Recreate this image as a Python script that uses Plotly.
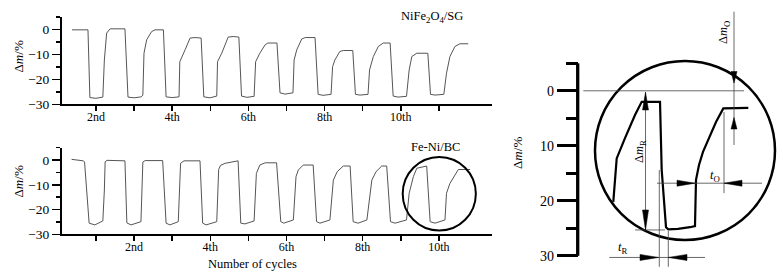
import plotly.graph_objects as go

# ---------------- data ----------------
# Upper panel: NiFe2O4/SG, mass change (%) vs. cycle
top_t = [1.37, 1.79, 1.84, 2.00, 2.18, 2.22, 2.28, 2.37, 2.76, 2.84, 3.00, 3.19,
         3.23, 3.26, 3.33, 3.46, 3.55, 3.77, 3.84, 4.00, 4.18, 4.20, 4.34, 4.47,
         4.60, 4.76, 4.83, 4.99, 5.17, 5.19, 5.30, 5.47, 5.60, 5.75, 5.82, 5.96,
         6.15, 6.19, 6.30, 6.44, 6.51, 6.75, 6.83, 6.96, 7.17, 7.20, 7.27, 7.40,
         7.49, 7.75, 7.83, 7.96, 8.17, 8.21, 8.27, 8.40, 8.49, 8.74, 8.81, 8.93,
         9.14, 9.18, 9.28, 9.41, 9.54, 9.72, 9.80, 9.93, 10.15, 10.22, 10.29, 10.42,
         10.71, 10.78, 10.90, 11.13, 11.20, 11.29, 11.42, 11.55, 11.77]
top_m = [-0.1, -0.1, -27.3, -27.6, -27.1, -12.2, -1.4, 0.3, 0.3, -27.1, -27.4, -27.0,
         -26.3, -9.5, -4.1, -0.8, -0.1, -0.1, -27.0, -27.3, -27.0, -12.9, -8.1, -3.4,
         -3.2, -3.4, -27.0, -27.4, -26.7, -12.9, -9.5, -3.0, -2.8, -3.0, -26.7, -27.2,
         -26.8, -12.9, -9.5, -6.1, -5.4, -5.4, -25.4, -25.9, -25.4, -12.2, -8.1, -3.8,
         -3.2, -3.2, -26.0, -26.4, -26.0, -14.9, -12.2, -8.8, -8.4, -8.4, -26.0, -26.3,
         -26.0, -16.2, -10.8, -6.8, -5.4, -5.4, -26.7, -27.1, -26.8, -16.2, -10.8, -9.5,
         -9.5, -26.0, -26.3, -26.0, -17.5, -10.8, -6.8, -5.7, -5.7]

# Lower panel: Fe-Ni/BC
bot_t = [0.36, 0.67, 0.70, 0.82, 0.97, 1.18, 1.22, 1.24, 1.29, 1.76, 1.81, 1.92,
         2.18, 2.23, 2.29, 2.75, 2.84, 2.94, 3.16, 3.22, 3.31, 3.73, 3.80, 3.89,
         4.17, 4.22, 4.27, 4.39, 4.73, 4.80, 4.91, 5.15, 5.21, 5.30, 5.44, 5.74,
         5.85, 5.93, 6.18, 6.25, 6.31, 6.44, 6.70, 6.79, 6.88, 7.14, 7.23, 7.33,
         7.49, 7.67, 7.75, 7.88, 8.11, 8.24, 8.35, 8.50, 8.63, 8.73, 8.85, 9.15,
         9.22, 9.33, 9.42, 9.55, 9.68, 9.77, 9.90, 10.16, 10.20, 10.29, 10.40, 10.51,
         10.82]
bot_m = [0.3, -0.3, -0.8, -25.5, -26.2, -24.6, -12.1, -0.7, -0.1, -0.3, -25.4, -26.2,
         -24.9, -0.8, -0.2, -0.2, -25.5, -26.2, -24.9, -1.3, -0.3, -0.3, -25.5, -26.2,
         -24.9, -3.8, -2.1, -1.3, -0.3, -25.5, -25.8, -24.6, -5.4, -2.0, -1.1, -1.1,
         -24.9, -25.5, -24.2, -6.7, -4.0, -2.0, -2.0, -24.9, -25.5, -24.2, -8.1, -4.7,
         -2.4, -2.4, -24.9, -25.5, -24.2, -8.1, -4.7, -2.4, -2.4, -24.9, -25.5, -24.2,
         -13.4, -6.7, -3.3, -2.7, -2.4, -24.9, -25.5, -24.2, -13.4, -9.4, -6.7, -3.8,
         -3.8]

# Magnified sketch (right): time in arbitrary units, mass loss in %
zoom_t = [17.8, 19.5, 23.65, 28.65, 32.0, 41.15, 42.0, 44.15, 45.3, 50.15, 56.15, 58.65,
          59.15, 60.65, 62.65, 65.15, 69.15, 72.8, 85.3]
zoom_m = [20.2, 12.3, 8.6, 4.4, 2.0, 2.0, 14.4, 24.8, 25.2, 25.1, 24.8, 24.6,
          16.2, 13.5, 11.1, 8.95, 5.67, 3.2, 3.1]

top_labelled = [2, 4, 6, 8, 10]
top_unlabelled = [3, 5, 7, 9, 11]
bot_labelled = [2, 4, 6, 8, 10]
bot_unlabelled = [1, 3, 5, 7, 9]
cycle_text = ["2nd", "4th", "6th", "8th", "10th"]
left_major = [-30, -20, -10, 0]
left_minor = [-25, -15, -5, 5]
zoom_major = [0, 10, 20, 30]
zoom_minor = [-5, 5, 15, 25]

# ---------------- figure ----------------
W, H = 783, 274          # reference frame used for all fractional positions
PAGE_H = 282             # rendered height (the capture is rescaled to 274)
FONT = "Liberation Serif"
fig = go.Figure()

fig.add_trace(go.Scatter(x=top_t, y=top_m, mode="lines", xaxis="x", yaxis="y",
                         line=dict(color="#555555", width=1), showlegend=False))
fig.add_trace(go.Scatter(x=bot_t, y=bot_m, mode="lines", xaxis="x2", yaxis="y2",
                         line=dict(color="#555555", width=1), showlegend=False))
fig.add_trace(go.Scatter(x=zoom_t, y=zoom_m, mode="lines", xaxis="x3", yaxis="y3",
                         line=dict(color="black", width=2.2), showlegend=False))


def left_x(rng, tv, mv):
    return dict(domain=[62 / W, 492 / W], range=rng, tickmode="array", tickvals=tv,
                ticktext=cycle_text, ticks="outside", ticklen=5, tickwidth=1.5,
                tickcolor="black", ticklabelstandoff=-5,
                minor=dict(tickmode="array", tickvals=mv, ticks="outside", ticklen=5,
                           tickwidth=1.5, tickcolor="black", showgrid=False),
                showline=True, linewidth=2, linecolor="black", showgrid=False,
                zeroline=False, tickfont=dict(family=FONT, size=12, color="black"))


def left_y(dom):
    return dict(domain=dom, range=[-30, 5.05], tickmode="array", tickvals=left_major,
                ticks="outside", ticklen=8, tickwidth=1.5, tickcolor="black",
                minor=dict(tickmode="array", tickvals=left_minor, ticks="outside",
                           ticklen=4, tickwidth=1.5, tickcolor="black", showgrid=False),
                showline=True, linewidth=2, linecolor="black", showgrid=False,
                zeroline=False, tickfont=dict(family=FONT, size=13.5, color="black"))


fig.update_layout(
    width=W, height=PAGE_H, autosize=False,
    margin=dict(l=0, r=0, t=0, b=0),
    paper_bgcolor="white", plot_bgcolor="rgba(0,0,0,0)",
    xaxis=dict(anchor="y", **left_x([1.108, 12.394], top_labelled, top_unlabelled)),
    yaxis=dict(anchor="x", **left_y([1 - 104.3 / H, 1 - 17 / H])),
    xaxis2=dict(anchor="y2", **left_x([0.108, 11.394], bot_labelled, bot_unlabelled)),
    yaxis2=dict(anchor="x2", **left_y([1 - 234.3 / H, 1 - 147.6 / H])),
    xaxis3=dict(anchor="y3", domain=[0, 1], range=[-288.85, 102.65], visible=False),
    yaxis3=dict(anchor="free", position=577.7 / W, domain=[0, 1], range=[33.31, -16.51],
                tickmode="array", tickvals=zoom_major, ticks="outside", ticklen=21,
                tickwidth=3.3, tickcolor="black", showline=False, showgrid=False,
                zeroline=False,
                minor=dict(tickmode="array", tickvals=zoom_minor, ticks="outside",
                           ticklen=12, tickwidth=3.3, tickcolor="black", showgrid=False),
                tickfont=dict(family=FONT, size=14, color="black")),
)

shapes = []
# circle around the last cycles of the lower panel
shapes.append(dict(type="circle", xref="x2", yref="y2", x0=9.05, x1=10.97, y0=-28.5, y1=1.3,
                   line=dict(color="black", width=2)))
# right sketch: axis line and magnifier circle
shapes.append(dict(type="line", xref="x3", yref="y3", x0=0, x1=0, y0=-5, y1=30,
                   line=dict(color="black", width=3.3)))
shapes.append(dict(type="circle", xref="x3", yref="y3", x0=8.65, x1=98.65, y0=-5.42, y1=27.13,
                   line=dict(color="black", width=2.5)))
thin = dict(color="#444444", width=0.8)
for (x0, y0, x1, y1) in [
    (2.8, 0, 83.15, 0),            # zero reference
    (78.15, -14.38, 78.15, 9.85),  # dm_O dimension
    (33.9, 0.27, 33.9, 25.31),     # dm_R dimension
    (28.65, 25.3, 43.65, 25.3),    # bottom reference
    (39.65, 16.8, 92.15, 16.8),    # t_O dimension
    (73.15, 3.85, 73.15, 18.6),
    (15.8, 30.3, 63.65, 30.3),     # t_R dimension
    (40.8, 14.4, 40.8, 32.0),
    (45.3, 25.5, 45.3, 32.0),
]:
    shapes.append(dict(type="line", xref="x3", yref="y3", x0=x0, y0=y0, x1=x1, y1=y1, line=thin))


def vhead(x, tip, base, hw=1.5):
    return dict(type="path", xref="x3", yref="y3",
                path=f"M {x - hw},{base} L {x + hw},{base} L {x},{tip} Z",
                fillcolor="black", line=dict(color="black", width=0.5))


def hhead(y, tip, base, hh=0.55):
    return dict(type="path", xref="x3", yref="y3",
                path=f"M {base},{y - hh} L {base},{y + hh} L {tip},{y} Z",
                fillcolor="black", line=dict(color="black", width=0.5))


shapes += [vhead(78.15, -1.42, -3.51), vhead(78.15, 4.85, 6.95),
           vhead(33.9, 0.27, 3.49), vhead(33.9, 25.31, 21.67),
           hhead(16.8, 58.65, 49.65), hhead(16.8, 73.15, 82.15),
           hhead(30.3, 40.4, 31.15), hhead(30.3, 45.3, 54.65)]
fig.update_layout(shapes=shapes)

f13 = dict(family=FONT, size=13, color="black")
f12 = dict(family=FONT, size=12.5, color="black")
C = dict(showarrow=False, xanchor="center", yanchor="middle")
ann = [
    dict(xref="paper", yref="paper", x=17.5 / W, y=1 - 57 / H, text="Δ<i>m</i>/%",
         textangle=-90, font=f13, **C),
    dict(xref="paper", yref="paper", x=17.5 / W, y=1 - 182 / H, text="Δ<i>m</i>/%",
         textangle=-90, font=f13, **C),
    dict(xref="paper", yref="paper", x=517 / W, y=1 - 153 / H, text="Δ<i>m</i>/%",
         textangle=-90, font=f13, **C),
    dict(xref="paper", yref="paper", x=252.5 / W, y=1 - 264 / H, text="Number of cycles",
         font=f12, **C),
    dict(xref="paper", yref="paper", x=432 / W, y=1 - 17 / H,
         text="NiFe<sub>2</sub>O<sub>4</sub>/SG", font=f12, **C),
    dict(xref="paper", yref="paper", x=436 / W, y=1 - 146.7 / H, text="Fe-Ni/BC", font=f12, **C),
    dict(xref="x3", yref="y3", x=73.15, y=-10.5, text="Δ<i>m</i><sub>O</sub>",
         textangle=-90, font=f12, **C),
    dict(xref="x3", yref="y3", x=31.15, y=11.13, text="Δ<i>m</i><sub>R</sub>",
         textangle=-90, font=f12, **C),
    dict(xref="x3", yref="y3", x=68.65, y=15.49, text="<i>t</i><sub>O</sub>", font=f12, **C),
    dict(xref="x3", yref="y3", x=22.4, y=28.58, text="<i>t</i><sub>R</sub>", font=f12, **C),
]
fig.update_layout(annotations=ann)

fig.write_html(
    "out.html",
    config={"displayModeBar": False, "staticPlot": True},
    post_script=("document.documentElement.style.margin='0';"
                 "document.body.style.margin='0';document.body.style.padding='0';"
                 "var g=document.querySelector('.plotly-graph-div');"
                 "g.style.position='fixed';g.style.left='0px';g.style.top='0px';"
                 "document.body.style.overflow='hidden';"
                 "document.documentElement.style.overflow='hidden';"),
)
